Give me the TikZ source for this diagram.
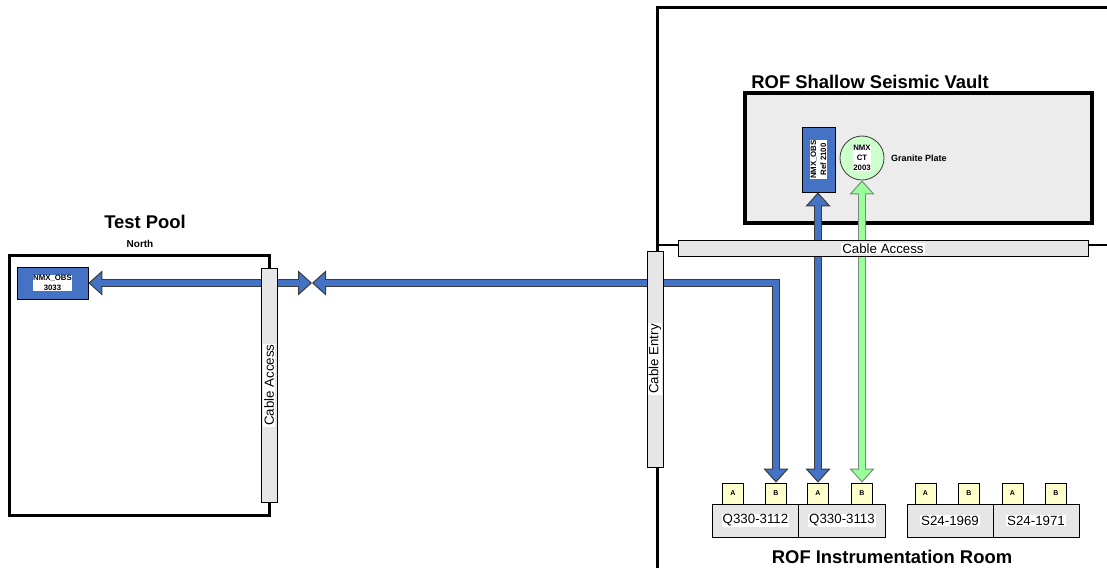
\documentclass[tikz,border=0pt]{standalone}
\usepackage{fontspec}
\setmainfont{Liberation Sans}
\usetikzlibrary{arrows.meta}
\definecolor{obsblue}{HTML}{4472C4}
\definecolor{ctgreen}{HTML}{CCFFCC}
\definecolor{argreen}{HTML}{99FF99}
\definecolor{bargrey}{HTML}{E6E6E6}
\definecolor{vaultgrey}{HTML}{ECECEC}
\definecolor{portyellow}{HTML}{FFFFCC}
\definecolor{outlinedark}{HTML}{3A3A3A}
\definecolor{outlinegreen}{HTML}{7A8A7A}
\begin{document}
\begin{tikzpicture}[x=1pt,y=-1pt,
  roomline/.style={draw=black, line width=3pt},
  area/.style={draw=black, line width=3pt, inner sep=0},
  vaultbox/.style={draw=black, fill=vaultgrey, line width=3.5pt, inner sep=0},
  bar/.style={draw=black, fill=bargrey, line width=0.8pt, inner sep=0},
  bartext/.style={fill=white, inner sep=1pt, font=\fontsize{13.3}{15}\selectfont},
  titletext/.style={font=\bfseries\fontsize{18.4}{20}\selectfont, inner sep=0},
  obsbox/.style={draw=black, fill=obsblue, line width=0.8pt, inner sep=0},
  ctcircle/.style={circle, draw=outlinedark, fill=ctgreen, line width=0.8pt, inner sep=0},
  smalllbl/.style={fill=white, inner sep=0.6pt, font=\bfseries\fontsize{7.8}{10}\selectfont, align=center},
  port/.style={draw=black, fill=portyellow, line width=0.8pt, minimum width=21pt, minimum height=21pt, inner sep=0, font=\bfseries\fontsize{7}{8}\selectfont},
  dev/.style={draw=black, fill=bargrey, line width=0.8pt, minimum width=87pt, minimum height=33pt, inner sep=0},
  devtext/.style={fill=white, inner sep=1pt, font=\fontsize{13.3}{15}\selectfont},
  tipb/.tip={Triangle[length=14pt,width=25pt,line width=1pt,fill=obsblue]},
  tipg/.tip={Triangle[length=14pt,width=25pt,line width=1pt,fill=argreen]},
  bluearrow/.style={draw=outlinedark, line width=8pt, tipb-tipb,
    postaction={draw=obsblue, line width=6pt, -, shorten >=13pt, shorten <=13pt}},
  greenarrow/.style={draw=outlinegreen, line width=8pt, tipg-tipg,
    postaction={draw=argreen, line width=6pt, -, shorten >=13pt, shorten <=13pt}}
]
\useasboundingbox (0,0) rectangle (1107,568);

% outer ROF room walls
\draw[roomline] (657,568) -- (657,7) -- (1107,7);
\draw[draw=black, line width=2.5pt] (657,245) -- (1107,245);

% test pool
\node[area, minimum width=260pt, minimum height=259.5pt] (pool) at (139.5,385.25) {};
\node[obsbox, minimum width=71pt, minimum height=32pt] (pnmx) at (52.5,283) {};
\node[smalllbl] (pnmxl) at (pnmx.center) {NMX\_OBS\\3033};

% vault
\node[vaultbox, minimum width=347pt, minimum height=130pt] (vault) at (918.5,158) {};
\node[obsbox, minimum width=33pt, minimum height=65pt] (obs) at (818.5,159.5) {};
\node[smalllbl, rotate=90] (obsl) at (obs.center) {NMX\_OBS\\Ref 2100};
\node[ctcircle, minimum size=44pt] (ct) at (862,158) {};
\node[smalllbl] (ctl) at (ct.center) {NMX\\CT\\2003};
\node[font=\bfseries\fontsize{9}{10}\selectfont, anchor=west, inner sep=0] (granite) at (891,158) {Granite Plate};

% instrumentation room devices
\node[dev] (q1) at (755.5,520.5) {};
\node[devtext] at (q1) {Q330-3112};
\node[dev] (q2) at (842,520.5) {};
\node[devtext] at (q2) {Q330-3113};
\node[dev, minimum width=86pt] (s1) at (950,520.5) {};
\node[devtext] at (s1) {S24-1969};
\node[dev, minimum width=86pt] (s2) at (1036,520.5) {};
\node[devtext] at (s2) {S24-1971};

\node[port] (q1a) at (733,493.5) {A};
\node[port] (q1b) at (776,493.5) {B};
\node[port] (q2a) at (818,493.5) {A};
\node[port] (q2b) at (862,493.5) {B};
\node[port] (s1a) at (925.5,493.5) {A};
\node[port] (s1b) at (969,493.5) {B};
\node[port] (s2a) at (1012.5,493.5) {A};
\node[port] (s2b) at (1056,493.5) {B};

% cables
\coordinate (bow) at (312,283);
\draw[bluearrow] (pnmx.east) -- (bow);
\draw[bluearrow] (bow) -| (q1b.north);
\draw[bluearrow] (q2a.north) -- (q2a.north |- obs.south);
\draw[greenarrow] (q2b.north) -- (ct.south);

% cable access bars
\node[bar, minimum width=16pt, minimum height=234pt] (pbar) at (269,385.25) {};
\node[bartext, rotate=90] (pbarl) at (pbar.center) {Cable Access};
\node[bar, minimum width=16pt, minimum height=216pt] (cebar) at (655,359) {};
\node[bartext, rotate=90] (cebarl) at (cebar.center) {Cable Entry};
\node[bar, minimum width=410pt, minimum height=16pt] (cabar) at (883,248.5) {};
\node[bartext] (cabarl) at (cabar.center) {Cable Access};

% titles
\node[titletext] (t1) at (870,82) {ROF Shallow Seismic Vault};
\node[titletext] (t2) at (145,222) {Test Pool};
\node[font=\bfseries\fontsize{10}{12}\selectfont, inner sep=0] (north) at (140,244) {North};
\node[titletext] (t3) at (892,557) {ROF Instrumentation Room};
\end{tikzpicture}
\end{document}
